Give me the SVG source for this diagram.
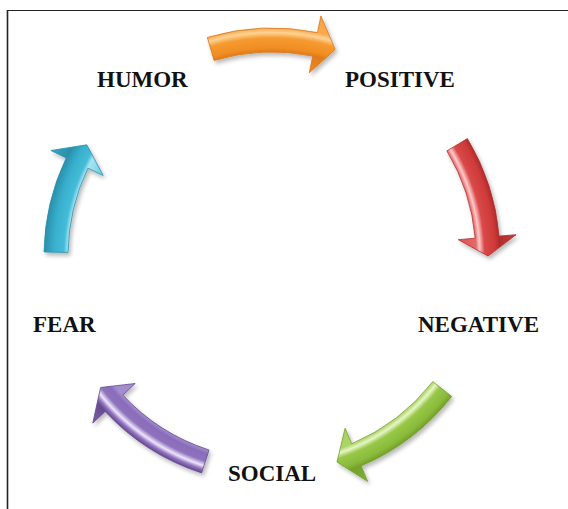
<svg xmlns="http://www.w3.org/2000/svg" width="568" height="509" viewBox="0 0 568 509">
  <style>
    .label { font-family: "Liberation Serif", "Times New Roman", serif; font-weight: bold; font-size: 23px; fill: #111; }
    .arrow { stroke-width: 0.8; stroke-linejoin: round; filter: url(#shade); }
    .frame { stroke: #222; fill: none; }
  </style>
  <defs>
    <filter id="shade" x="-20%" y="-20%" width="140%" height="140%">
      <feGaussianBlur in="SourceAlpha" stdDeviation="2"/>
      <feOffset dx="2" dy="3" result="blur"/>
      <feComponentTransfer><feFuncA type="linear" slope="0.28"/></feComponentTransfer>
      <feMerge><feMergeNode/><feMergeNode in="SourceGraphic"/></feMerge>
    </filter>
    <!-- ring-shaped shading: offsets follow the radius about the cycle centre -->
    <radialGradient id="gOrange" gradientUnits="userSpaceOnUse" cx="272" cy="256" r="245">
      <stop offset="0.76" stop-color="#F08C28"/>
      <stop offset="0.833" stop-color="#E07C18"/>
      <stop offset="0.85" stop-color="#F08E24"/>
      <stop offset="0.89" stop-color="#F69A30"/>
      <stop offset="0.912" stop-color="#FFD294"/>
      <stop offset="0.93" stop-color="#F9AA50"/>
      <stop offset="1" stop-color="#F5A040"/>
    </radialGradient>
    <radialGradient id="gRed" gradientUnits="userSpaceOnUse" cx="272" cy="256" r="245">
      <stop offset="0.76" stop-color="#DC5252"/>
      <stop offset="0.833" stop-color="#E46868"/>
      <stop offset="0.848" stop-color="#FFCACA"/>
      <stop offset="0.868" stop-color="#DA4848"/>
      <stop offset="0.91" stop-color="#CE3A3A"/>
      <stop offset="0.93" stop-color="#B02C2C"/>
      <stop offset="1" stop-color="#C83C3C"/>
    </radialGradient>
    <radialGradient id="gGreen" gradientUnits="userSpaceOnUse" cx="272" cy="256" r="245">
      <stop offset="0.76" stop-color="#A8D05E"/>
      <stop offset="0.833" stop-color="#AED468"/>
      <stop offset="0.85" stop-color="#E6F5C6"/>
      <stop offset="0.87" stop-color="#98C848"/>
      <stop offset="0.91" stop-color="#8ABA3A"/>
      <stop offset="0.93" stop-color="#74A02C"/>
      <stop offset="1" stop-color="#84B236"/>
    </radialGradient>
    <radialGradient id="gPurple" gradientUnits="userSpaceOnUse" cx="272" cy="256" r="245">
      <stop offset="0.76" stop-color="#A08ACC"/>
      <stop offset="0.833" stop-color="#A48ED0"/>
      <stop offset="0.85" stop-color="#8A6CBA"/>
      <stop offset="0.88" stop-color="#8E72BC"/>
      <stop offset="0.9" stop-color="#EEE6FB"/>
      <stop offset="0.915" stop-color="#9474C2"/>
      <stop offset="0.93" stop-color="#644A8E"/>
      <stop offset="1" stop-color="#7E62AE"/>
    </radialGradient>
    <radialGradient id="gCyan" gradientUnits="userSpaceOnUse" cx="272" cy="256" r="245">
      <stop offset="0.76" stop-color="#62C8E0"/>
      <stop offset="0.833" stop-color="#AAE4F2"/>
      <stop offset="0.85" stop-color="#44BCD8"/>
      <stop offset="0.89" stop-color="#38B0CE"/>
      <stop offset="0.93" stop-color="#2A90AC"/>
      <stop offset="1" stop-color="#34A8C6"/>
    </radialGradient>
  </defs>

  <rect width="568" height="509" fill="#fff"/>
  <!-- page frame -->
  <line class="frame" x1="7" y1="10.5" x2="568" y2="10.5" stroke-width="1.2"/>
  <line class="frame" x1="7.5" y1="10" x2="7.5" y2="509" stroke-width="1.6" stroke="#333"/>

  <!-- curved cycle arrows -->
  <g id="connectors">
    <path id="humor-positive" class="arrow" fill="url(#gOrange)" stroke="#D8761C"
      d="M207.3,37.4 A228,228 0 0 1 317.5,32.6 L320.9,15.9 L335.2,49.4 L309.3,72.8 L312.7,56.1 A204,204 0 0 0 214.1,60.4 Z"/>
    <path id="positive-negative" class="arrow" fill="url(#gRed)" stroke="#AE3030"
      d="M467.4,138.6 A228,228 0 0 1 499.1,236.1 L516.1,234.7 L488,256 L458.3,239.7 L475.2,238.2 A204,204 0 0 0 446.9,150.9 Z"/>
    <path id="negative-social" class="arrow" fill="url(#gGreen)" stroke="#74A02C"
      d="M451.7,396.4 A228,228 0 0 1 361.1,465.9 L367.7,481.5 L337,462 L345.1,428.1 L351.7,443.8 A204,204 0 0 0 432.8,381.6 Z"/>
    <path id="social-fear" class="arrow" fill="url(#gPurple)" stroke="#644A8E"
      d="M201.6,472.9 A228,228 0 0 1 105.2,411.5 L92.8,423.1 L100.6,387.5 L135.2,383.5 L122.8,395.1 A204,204 0 0 0 209,450 Z"/>
    <path id="fear-humor" class="arrow" fill="url(#gCyan)" stroke="#2A90AC"
      d="M44,252 A228,228 0 0 1 66.2,157.9 L50.9,150.5 L86.8,144.8 L103.2,175.5 L87.9,168.2 A204,204 0 0 0 68,252.4 Z"/>
  </g>

  <!-- stage labels -->
  <g id="humor"><text class="label" x="97" y="87">HUMOR</text></g>
  <g id="positive"><text class="label" x="345" y="87">POSITIVE</text></g>
  <g id="negative"><text class="label" x="418" y="332">NEGATIVE</text></g>
  <g id="social"><text class="label" x="228" y="481">SOCIAL</text></g>
  <g id="fear"><text class="label" x="33" y="332">FEAR</text></g>
</svg>
